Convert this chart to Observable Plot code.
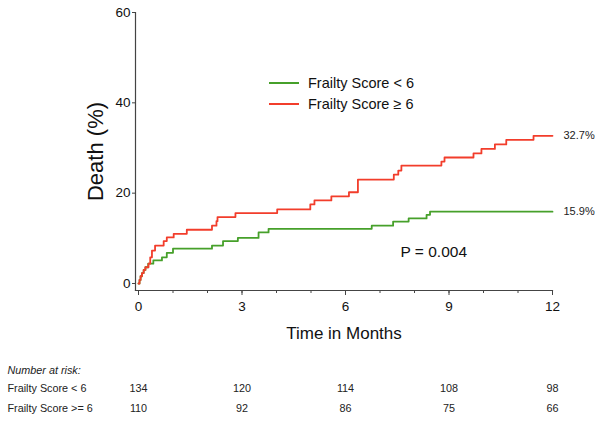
<!DOCTYPE html>
<html>
<head>
<meta charset="utf-8">
<script src="https://cdn.jsdelivr.net/npm/d3@7"></script>
<script src="https://cdn.jsdelivr.net/npm/@observablehq/plot@0.6"></script>
<style>
  html, body { margin: 0; padding: 0; background: #fff; }
  #wrap { position: relative; width: 602px; height: 423px; font-family: "Liberation Sans", Arial, sans-serif; }
  #legend { position: absolute; left: 269px; top: 72px; font-size: 14.5px; color: #111; }
  #legend .row { display: flex; align-items: center; height: 21px; }
  #legend .sw { width: 30px; height: 2px; margin-right: 9px; }
</style>
</head>
<body>
<div id="wrap"></div>
<script>
// Groups
const groups = ["Frailty Score < 6", "Frailty Score ≥ 6"];
const colors = ["#46a02a", "#f23d2b"];

// Step curve: time (months) and cumulative death (%)
const lowTime  = [0, 0.03, 0.06, 0.10, 0.15, 0.20, 0.28, 0.43, 0.68, 0.82, 1.00, 2.13, 2.45, 2.88, 3.48, 3.77, 6.76, 7.38, 7.83, 8.35, 8.45, 12];
const lowDeath = [0, 0.8, 1.6, 2.3, 3.0, 3.6, 4.4, 5.1, 5.8, 6.8, 7.7, 8.4, 9.4, 10.1, 11.3, 12.1, 12.8, 13.7, 14.4, 15.2, 15.9, 15.9];

const highTime  = [0, 0.03, 0.06, 0.10, 0.15, 0.20, 0.29, 0.34, 0.39, 0.48, 0.73, 0.82, 1.02, 1.40, 2.13, 2.26, 2.29, 2.81, 4.02, 4.98, 5.10, 5.59, 6.10, 6.36, 7.40, 7.53, 7.62, 8.78, 8.87, 9.71, 9.94, 10.33, 10.66, 11.45, 12];
const highDeath = [0, 0.8, 1.6, 2.3, 3.0, 3.6, 4.4, 5.8, 7.3, 8.4, 9.4, 10.2, 11.0, 11.9, 12.8, 13.8, 14.7, 15.6, 16.4, 17.5, 18.4, 19.3, 20.2, 23.0, 24.1, 25.0, 26.1, 27.0, 27.9, 28.8, 29.8, 30.8, 31.8, 32.7, 32.7];

// End labels
const endLabels = ["15.9%", "32.7%"];
const pText = "P = 0.004";

// Number at risk
const riskTimes = [0, 3, 6, 9, 12];
const riskLabels = ["Frailty Score < 6", "Frailty Score >= 6"];
const riskLow  = [134, 120, 114, 108, 98];
const riskHigh = [110, 92, 86, 75, 66];

const xTicks = [0, 3, 6, 9, 12];
const yTicks = [0, 20, 40, 60];

const lowData = lowTime.map((t, i) => ({t, d: lowDeath[i]}));
const highData = highTime.map((t, i) => ({t, d: highDeath[i]}));
const ends = [
  {t: 12, d: lowDeath[lowDeath.length - 1], label: endLabels[0]},
  {t: 12, d: highDeath[highDeath.length - 1], label: endLabels[1]}
];
const riskLowRows = riskTimes.map((t, i) => ({t, n: riskLow[i]}));
const riskHighRows = riskTimes.map((t, i) => ({t, n: riskHigh[i]}));

const font = '"Liberation Sans", Arial, sans-serif';
const axisColor = "#444";
const tableColor = "#222";

const chart = Plot.plot({
  width: 602,
  height: 423,
  marginLeft: 135,
  marginRight: 50,
  marginTop: 12,
  marginBottom: 133,
  insetLeft: 3,
  insetBottom: 7,
  style: {fontFamily: font, background: "#fff", color: "#111"},
  x: {domain: [0, 12]},
  y: {domain: [0, 60]},
  marks: [
    Plot.frame({anchor: "left", stroke: axisColor, strokeWidth: 1.2}),
    Plot.frame({anchor: "bottom", stroke: axisColor, strokeWidth: 1.2}),
    Plot.axisX({ticks: d3.range(0, 13), tickSize: 3, text: null, stroke: axisColor, label: null}),
    Plot.axisX({ticks: xTicks, tickSize: 5, tickPadding: 6, fontSize: 13.5, stroke: axisColor, label: null, tickFormat: d => String(d)}),
    Plot.axisY({ticks: yTicks, tickSize: 3, tickPadding: 2, fontSize: 13.5, stroke: axisColor, label: null}),
    Plot.text(["Death (%)"], {frameAnchor: "left", textAnchor: "middle", rotate: -90, dx: -40, fontSize: 22, fill: "#111"}),
    Plot.text(["Time in Months"], {frameAnchor: "bottom", dy: 48, fontSize: 17, fill: "#111"}),
    Plot.line(lowData, {x: "t", y: "d", curve: "step-after", stroke: colors[0], strokeWidth: 1.8}),
    Plot.line(highData, {x: "t", y: "d", curve: "step-after", stroke: colors[1], strokeWidth: 1.8}),
    Plot.text(ends, {x: "t", y: "d", text: "label", dx: 11, textAnchor: "start", fontSize: 11, fill: tableColor}),
    Plot.text([pText], {frameAnchor: "bottom-left", textAnchor: "start", dx: 265, dy: -34, fontSize: 15.5, fill: "#111"}),
    Plot.text(["Number at risk:"], {frameAnchor: "bottom-left", dx: -128, dy: 83, textAnchor: "start", fontSize: 10.8, fontStyle: "italic", fill: tableColor}),
    Plot.text([riskLabels[0]], {frameAnchor: "bottom-left", dx: -128, dy: 101, textAnchor: "start", fontSize: 10.8, fill: tableColor}),
    Plot.text([riskLabels[1]], {frameAnchor: "bottom-left", dx: -128, dy: 121, textAnchor: "start", fontSize: 10.8, fill: tableColor}),
    Plot.text(riskLowRows, {x: "t", text: "n", frameAnchor: "bottom", dy: 101, fontSize: 10.8, fill: tableColor}),
    Plot.text(riskHighRows, {x: "t", text: "n", frameAnchor: "bottom", dy: 121, fontSize: 10.8, fill: tableColor})
  ]
});

const wrap = document.getElementById("wrap");
wrap.appendChild(chart);

// Legend
const legend = document.createElement("div");
legend.id = "legend";
groups.forEach((g, i) => {
  const row = document.createElement("div");
  row.className = "row";
  const sw = document.createElement("span");
  sw.className = "sw";
  sw.style.background = colors[i];
  const label = document.createElement("span");
  label.textContent = g;
  row.appendChild(sw);
  row.appendChild(label);
  legend.appendChild(row);
});
wrap.appendChild(legend);
</script>
</body>
</html>
